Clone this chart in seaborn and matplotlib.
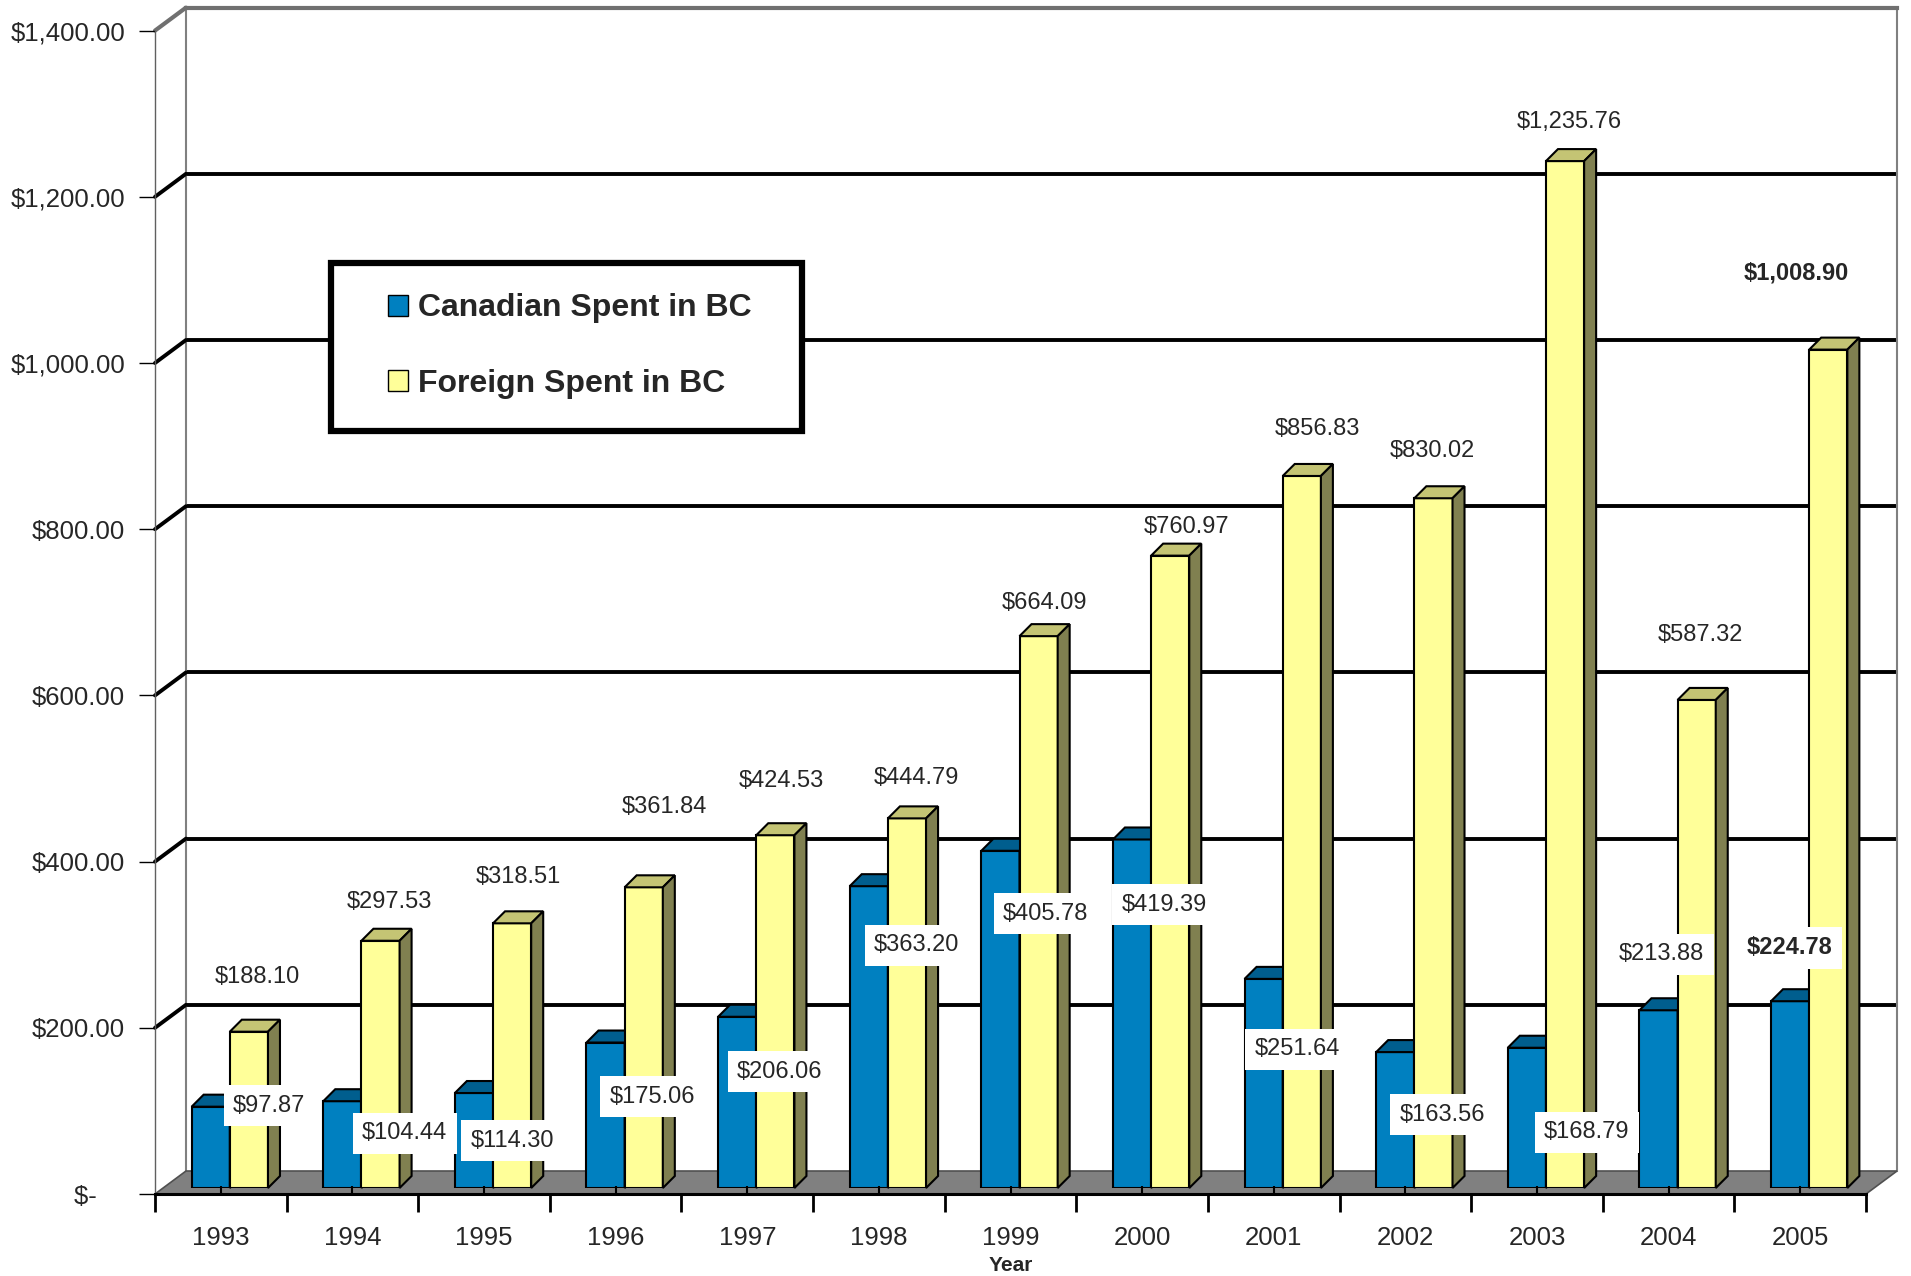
import numpy as np
import pandas as pd
import seaborn as sns
import matplotlib.pyplot as plt
import matplotlib.transforms as mtransforms
from matplotlib.patches import Polygon, Rectangle, Patch
from matplotlib.lines import Line2D

# Data
years = ['1993', '1994', '1995', '1996', '1997', '1998', '1999',
         '2000', '2001', '2002', '2003', '2004', '2005']
canadian = [97.87, 104.44, 114.30, 175.06, 206.06, 363.20, 405.78,
            419.39, 251.64, 163.56, 168.79, 213.88, 224.78]
foreign = [188.10, 297.53, 318.51, 361.84, 424.53, 444.79, 664.09,
           760.97, 856.83, 830.02, 1235.76, 587.32, 1008.90]
series = ['Canadian Spent in BC', 'Foreign Spent in BC']
y_ticks = [0, 200, 400, 600, 800, 1000, 1200, 1400]

# where the data labels sit (category offset, value height)
can_label_dx = [0.30, 0.33, 0.145, 0.21, 0.18, 0.22, 0.20, 0.10, 0.11, 0.21, 0.31, -0.12, -0.15]
can_label_y = [99, 66, 57, 110, 140, 292, 330, 341, 167, 88, 67, 281, 289]
for_label_dx = [0.21, 0.21, 0.19, 0.30, 0.19, 0.22, 0.19, 0.27, 0.26, 0.14, 0.18, 0.17, -0.10]
for_label_y = [254, 344, 374, 459, 490, 493, 704, 796, 913, 887, 1283, 666, 1101]

blue, blue_top = '#0080C0', '#005E8E'
yellow, yellow_top, yellow_side = '#FFFF99', '#C4C474', '#808050'

df = pd.DataFrame({
    'Year': years * 2,
    'Value': canadian + foreign,
    'Series': [series[0]] * len(years) + [series[1]] * len(years),
})

sns.set_theme(style='white')
plt.rcParams['font.family'] = ['Liberation Sans', 'DejaVu Sans']

W, H, DPI = 1911, 1276, 100
fig = plt.figure(figsize=(W / DPI, H / DPI), dpi=DPI)
plot_w, plot_h = 1711, 1163.4


def rect(left, floor_y):
    return [left / W, (H - floor_y) / H, plot_w / W, plot_h / H]


n = len(years)
back_ax = fig.add_axes(rect(186, 1171), zorder=0)
ax = fig.add_axes(rect(164, 1188), zorder=1)
front_ax = fig.add_axes(rect(155, 1194), zorder=2)
for a in (back_ax, ax, front_ax):
    a.set_xlim(-0.5, n - 0.5)
    a.set_ylim(0, 1400)

# back wall with gridlines
back_ax.set_yticks(y_ticks[1:-1])
back_ax.set_xticks([])
back_ax.tick_params(length=0, labelleft=False)
back_ax.grid(axis='y', color='black', lw=2.8)
for s in ('left', 'right'):
    back_ax.spines[s].set_color('#808080')
    back_ax.spines[s].set_linewidth(1.5)
back_ax.spines['top'].set_color('#707070')
back_ax.spines['top'].set_linewidth(3)
back_ax.spines['bottom'].set_visible(False)

# bars
sns.barplot(data=df, x='Year', y='Value', hue='Series', palette=[blue, yellow],
            width=0.58, saturation=1, edgecolor='black', linewidth=1.5,
            legend=False, ax=ax)
ax.set_xlim(-0.5, n - 0.5)
ax.set_ylim(0, 1400)
ax.set_axis_off()

dx = 12 / (plot_w / n)
dy = 12 / (plot_h / 1400)
for k, cont in enumerate(ax.containers):
    top_c = blue_top if k == 0 else yellow_top
    side_c = blue_top if k == 0 else yellow_side
    z = 2 + k
    for bar in cont:
        bar.set_zorder(z)
        x0, w, h = bar.get_x(), bar.get_width(), bar.get_height()
        ax.add_patch(Polygon([(x0, h), (x0 + w, h), (x0 + w + dx, h + dy), (x0 + dx, h + dy)],
                             closed=True, fc=top_c, ec='black', lw=1.5, zorder=z, clip_on=False))
        ax.add_patch(Polygon([(x0 + w, 0), (x0 + w + dx, dy), (x0 + w + dx, h + dy), (x0 + w, h)],
                             closed=True, fc=side_c, ec='black', lw=1.5, zorder=z, clip_on=False))

# data labels
for i in range(n):
    wt = 'bold' if i == n - 1 else 'normal'
    ax.text(i + can_label_dx[i], can_label_y[i], f'${canadian[i]:,.2f}', ha='center', va='center',
            fontsize=17, weight=wt, zorder=6,
            bbox=dict(boxstyle='square,pad=0.4', fc='white', ec='none'))
    ax.text(i + for_label_dx[i], for_label_y[i], f'${foreign[i]:,.2f}', ha='center', va='center',
            fontsize=17, weight=wt, zorder=6)

# front plane: axes, ticks and labels
front_ax.patch.set_alpha(0)
front_ax.set_yticks(y_ticks)
front_ax.set_yticklabels([f'${v:,.2f}' if v else '$-    ' for v in y_ticks], fontsize=18.5)
front_ax.set_xticks(np.arange(-0.5, n, 1.0))
front_ax.set_xticklabels([])
front_ax.set_xticks(np.arange(n), minor=True)
front_ax.set_xticklabels(years, minor=True, fontsize=18.5)
front_ax.tick_params(axis='y', length=11.5, width=1, color='black', pad=10, left=True)
front_ax.tick_params(axis='x', which='major', length=13, width=2, color='black', direction='out', bottom=True)
front_ax.tick_params(axis='x', which='minor', length=6, width=1.5, color='black', direction='in',
                     pad=23, bottom=True)
for s in ('top', 'right'):
    front_ax.spines[s].set_visible(False)
front_ax.spines['left'].set_color('#606060')
front_ax.spines['left'].set_linewidth(1)
front_ax.spines['bottom'].set_color('black')
front_ax.spines['bottom'].set_linewidth(2.2)
front_ax.set_xlabel('Year', fontsize=15, weight='bold')
front_ax.xaxis.set_label_coords(0.5, -0.053)

# floor and side wall joining front plane to back wall
ident = mtransforms.IdentityTransform()


def disp(a, x, y):
    return a.transData.transform((x, y))


floor = [disp(front_ax, -0.5, 0), disp(front_ax, n - 0.5, 0),
         disp(back_ax, n - 0.5, 0), disp(back_ax, -0.5, 0)]
fig.add_artist(Polygon(floor, closed=True, fc='#808080', ec='#505050', lw=1.2,
                       transform=ident, zorder=0.5))
for v in y_ticks[1:]:
    p1, p2 = disp(front_ax, -0.5, v), disp(back_ax, -0.5, v)
    col, lw = ('#707070', 3) if v == 1400 else ('black', 2.8)
    fig.add_artist(Line2D([p1[0], p2[0]], [p1[1], p2[1]], color=col, lw=lw,
                          transform=ident, zorder=0.6))

# legend
fig.add_artist(Rectangle((331 / W, 1 - 431 / H), 471 / W, 168 / H, transform=fig.transFigure,
                         fc='white', ec='black', lw=4.5, zorder=0.8))
handles = [Patch(fc=blue, ec='black', lw=1), Patch(fc=yellow, ec='black', lw=1)]
ax.legend(handles, series, loc='center left', bbox_to_anchor=(387.5 / W, 1 - 346 / H),
          bbox_transform=fig.transFigure, frameon=False,
          prop=dict(weight='bold', size=23), handlelength=0.63, handleheight=0.63,
          handletextpad=0.32, labelspacing=1.42, borderpad=0, borderaxespad=0)

fig.savefig('out.png', dpi=DPI)
